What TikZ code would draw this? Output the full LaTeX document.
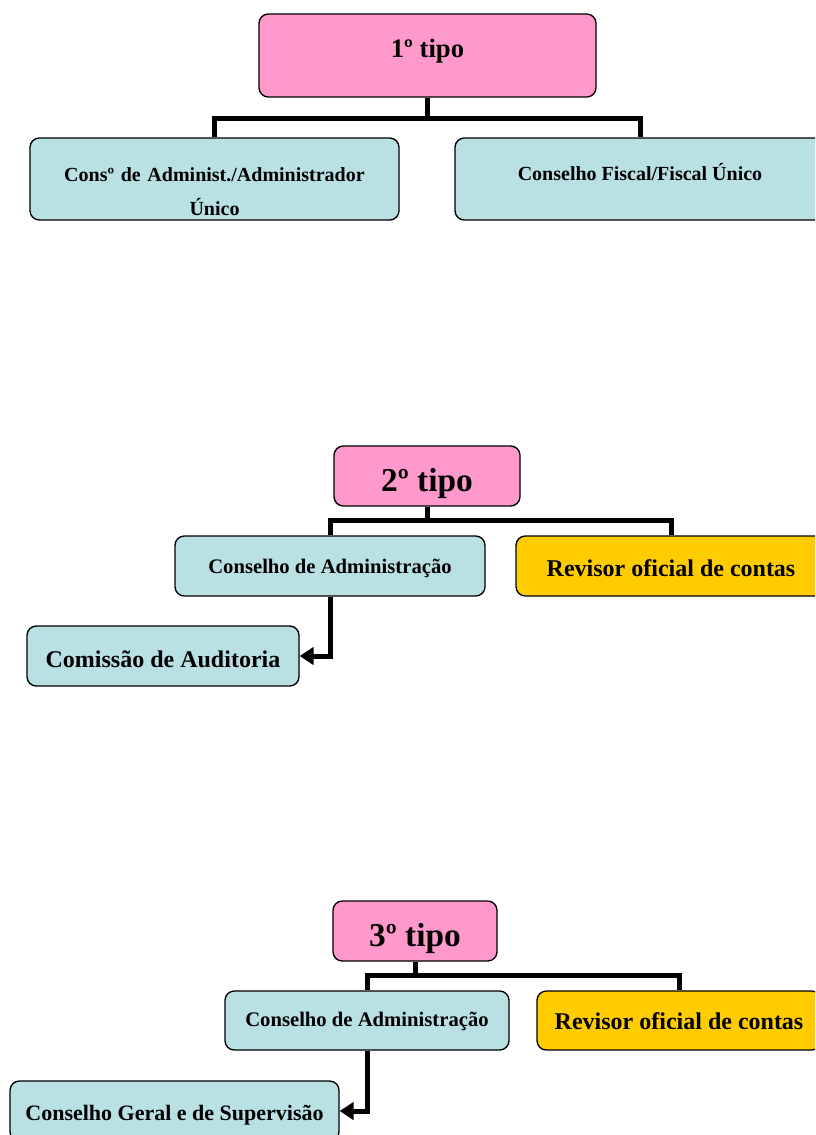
\documentclass[tikz,border=0pt]{standalone}
\usepackage{fontspec}
\setmainfont{Liberation Serif}
\usepackage{tikz}
\usetikzlibrary{arrows.meta}

\definecolor{rosa}{HTML}{FF99CC}
\definecolor{azul}{HTML}{B9E0E3}
\definecolor{amarelo}{HTML}{FFCC00}

\begin{document}
\begin{tikzpicture}
            [x=0.75pt,y=-0.75pt,
             box/.style={draw=black,line width=1pt,rounded corners=7pt,font=\bfseries,align=center,inner sep=0pt},
             tipo/.style={box,fill=rosa},
             orgao/.style={box,fill=azul},
             revisor/.style={box,fill=amarelo},
             linhabase/.style={text height=#1,text depth=0pt},
             ligacao/.style={line width=3.75pt},
             seta/.style={line width=3.75pt,-{Triangle[length=10.5pt,width=13pt]}}]
            \useasboundingbox (0,0) rectangle (815,1135);
            \clip (0,0) rectangle (815,1135);

            % 1o tipo
            \node[tipo,linhabase=2.7pt,minimum width=252.75pt,minimum height=62.25pt,font=\bfseries\fontsize{20}{24}\selectfont] (T1) at (427.5,55.5) {1º tipo};
            \node[orgao,text width=270pt,text height=20pt,text depth=16pt,minimum width=276.75pt,minimum height=61.5pt,font=\bfseries\fontsize{15}{25.5}\selectfont] (A1) at (214.5,179) {Consº de Administ./Administrador\\Único};
            \node[orgao,linhabase=1.5pt,minimum width=277.5pt,minimum height=61.5pt,font=\bfseries\fontsize{15}{18}\selectfont] (B1) at (640,179) {Conselho Fiscal/Fiscal Único};

            \draw[ligacao] (T1.south) -- ++(0,21) -| (A1.north);
            \draw[ligacao] (T1.south) -- ++(0,21) -| (B1.north);

            % 2o tipo
            \node[tipo,linhabase=23.6pt,minimum width=139.5pt,minimum height=45pt,font=\bfseries\fontsize{25}{30}\selectfont] (T2) at (427,476) {2º tipo};
            \node[orgao,linhabase=11pt,minimum width=232.5pt,minimum height=45pt,font=\bfseries\fontsize{15.5}{18}\selectfont] (A2) at (330,566) {Conselho de Administração};
            \node[revisor,linhabase=15pt,minimum width=232.5pt,minimum height=45pt,font=\bfseries\fontsize{18}{22}\selectfont] (B2) at (671,566) {Revisor oficial de contas};
            \node[orgao,linhabase=17pt,minimum width=204pt,minimum height=45pt,font=\bfseries\fontsize{18}{22}\selectfont] (C2) at (163,656) {Comissão de Auditoria};

            \draw[ligacao] (T2.south) -- ++(0,14) -| (A2.north);
            \draw[ligacao] (T2.south) -- ++(0,14) -| (B2.north);
            \draw[seta] (A2.south) |- (C2.east);

            % 3o tipo
            \node[tipo,linhabase=23.6pt,minimum width=123pt,minimum height=45pt,font=\bfseries\fontsize{25}{30}\selectfont] (T3) at (415,931) {3º tipo};
            \node[orgao,linhabase=9.3pt,minimum width=213pt,minimum height=44.25pt,font=\bfseries\fontsize{15.5}{18}\selectfont] (A3) at (367,1020.5) {Conselho de Administração};
            \node[revisor,linhabase=14.2pt,minimum width=213pt,minimum height=44.25pt,font=\bfseries\fontsize{18}{22}\selectfont] (B3) at (679,1020.5) {Revisor oficial de contas};
            \node[orgao,linhabase=13.5pt,minimum width=246.75pt,minimum height=45pt,font=\bfseries\fontsize{16.5}{20}\selectfont] (C3) at (174.5,1111) {Conselho Geral e de Supervisão};

            \draw[ligacao] (T3.south) -- ++(0,14) -| (A3.north);
            \draw[ligacao] (T3.south) -- ++(0,14) -| (B3.north);
            \draw[seta] (A3.south) |- (C3.east);
        \end{tikzpicture}
\end{document}
